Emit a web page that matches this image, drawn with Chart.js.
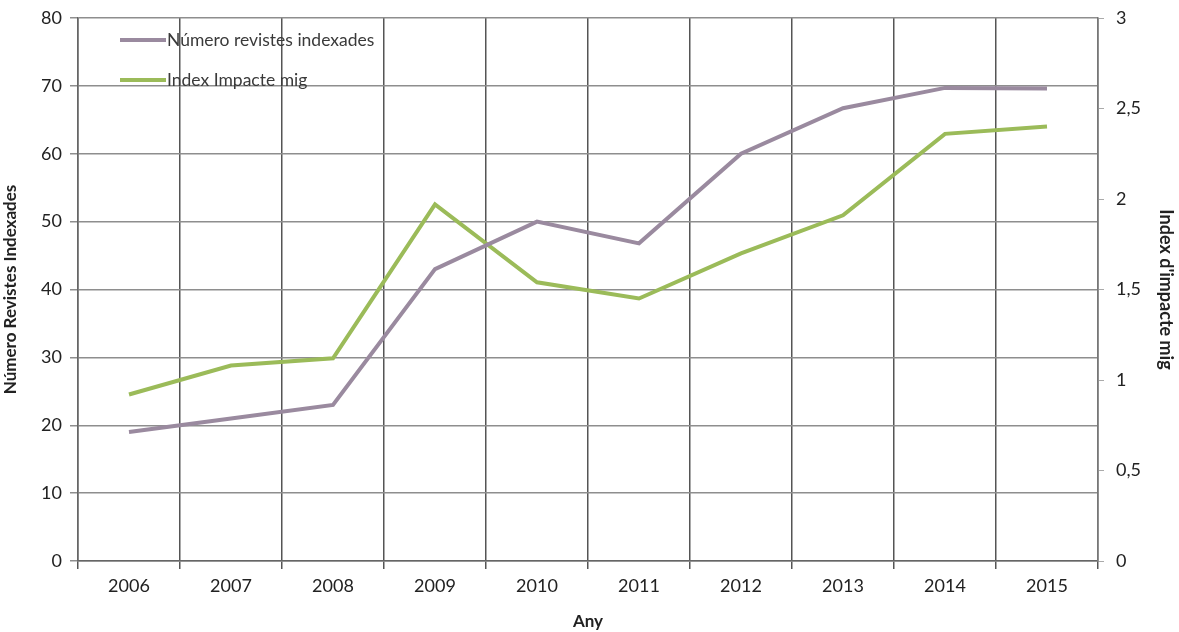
<!DOCTYPE html>
<html>
<head>
<meta charset="utf-8">
<script src="https://cdn.jsdelivr.net/npm/chart.js@4.4.1/dist/chart.umd.min.js"></script>
<style>
  html, body { margin: 0; padding: 0; background: #fff; }
  #wrap { width: 1179px; height: 632px; }
</style>
</head>
<body>
<div id="wrap"><canvas id="c"></canvas></div>
<script>
const years = ['2006', '2007', '2008', '2009', '2010', '2011', '2012', '2013', '2014', '2015'];
const revistes = [19, 21, 23, 43, 50, 46.8, 60, 66.7, 69.7, 69.6];
const impacte = [0.92, 1.08, 1.12, 1.97, 1.54, 1.45, 1.70, 1.91, 2.36, 2.40];

const purple = '#9a8a9f';
const green = '#9bbb59';
const font = 'Lato, "Open Sans", sans-serif';

// legend drawn inside the plot, top-left
const insideLegend = {
  id: 'insideLegend',
  afterDraw(chart) {
    const ctx = chart.ctx;
    const x0 = chart.chartArea.left + 42;
    const rows = [chart.chartArea.top + 22, chart.chartArea.top + 62];
    chart.data.datasets.forEach((ds, i) => {
      const y = rows[i];
      ctx.save();
      ctx.strokeStyle = ds.borderColor;
      ctx.lineWidth = 4;
      ctx.beginPath();
      ctx.moveTo(x0, y);
      ctx.lineTo(x0 + 46, y);
      ctx.stroke();
      ctx.fillStyle = '#3a3a3a';
      ctx.font = '17.5px ' + font;
      ctx.textBaseline = 'middle';
      ctx.fillText(ds.label, x0 + 47, y);
      ctx.restore();
    });
  }
};

new Chart(document.getElementById('c'), {
  type: 'line',
  data: {
    labels: years,
    datasets: [
      { label: 'Número revistes indexades', data: revistes, yAxisID: 'y',
        borderColor: purple, borderWidth: 4, pointRadius: 0, tension: 0 },
      { label: 'Index Impacte mig', data: impacte, yAxisID: 'y1',
        borderColor: green, borderWidth: 4, pointRadius: 0, tension: 0 }
    ]
  },
  options: {
    responsive: true,
    maintainAspectRatio: false,
    animation: false,
    layout: { padding: { top: 18, left: 0, right: 0, bottom: 0 } },
    plugins: { legend: { display: false }, tooltip: { enabled: false } },
    scales: {
      x: {
        offset: true,
        grid: { offset: true, color: '#555', lineWidth: 1.5, tickLength: 8, drawTicks: true },
        border: { color: '#666', width: 1.5 },
        ticks: { color: '#222', font: { family: font, size: 18 }, padding: 6, maxRotation: 0 },
        title: { display: true, text: 'Any', color: '#222', font: { family: font, size: 17, weight: 'bold' }, padding: { top: 0, bottom: 0 } },
        afterFit(s) { s.height = 71; }
      },
      y: {
        position: 'left',
        min: 0, max: 80,
        ticks: { stepSize: 10, color: '#222', font: { family: font, size: 18 }, padding: 8 },
        grid: { color: '#8e8e8e', lineWidth: 1.5, tickLength: 8 },
        border: { color: '#666', width: 1.5 },
        title: { display: true, text: 'Número Revistes Indexades', color: '#222', font: { family: font, size: 17, weight: 'bold' }, padding: { top: 0, bottom: 2 } },
        afterFit(s) { s.width = 78; s.paddingTop = 0; s.paddingBottom = 0; }
      },
      y1: {
        position: 'right',
        min: 0, max: 3,
        ticks: {
          stepSize: 0.5, color: '#222', font: { family: font, size: 18 }, padding: 12,
          callback: v => String(v).replace('.', ',')
        },
        grid: { drawOnChartArea: false, color: '#aaa', tickLength: 6 },
        border: { color: '#777', width: 1.5 },
        title: { display: true, text: "Index d'impacte mig", color: '#222', font: { family: font, size: 18, weight: 'bold' }, padding: { top: 2, bottom: 0 } },
        afterFit(s) { s.width = 81; s.paddingTop = 0; s.paddingBottom = 0; }
      }
    }
  },
  plugins: [insideLegend]
});
</script>
</body>
</html>
